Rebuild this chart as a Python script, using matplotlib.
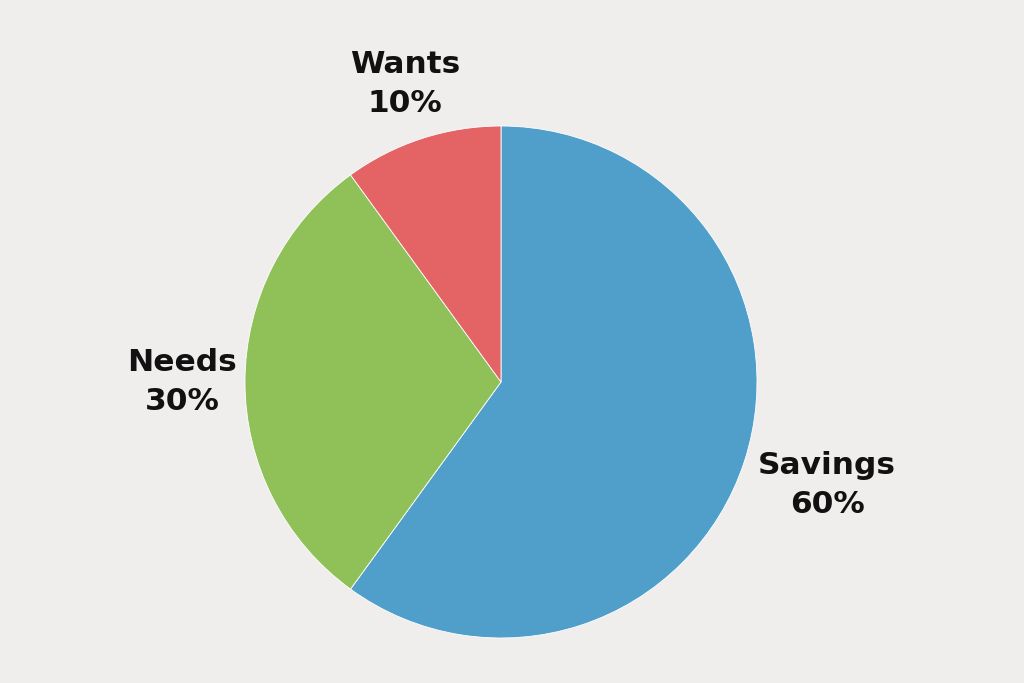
import matplotlib
matplotlib.use("Agg")
import matplotlib.pyplot as plt

categories = ["Savings", "Needs", "Wants"]
values = [60, 30, 10]
colors = ["#4f9fca", "#8fc158", "#e46466"]
label_pos = {"Savings": (827, 198), "Needs": (182, 301), "Wants": (405, 599)}

bg = "#f0eeed"
fig = plt.figure(figsize=(10.24, 6.83), dpi=100, facecolor=bg)
ax = fig.add_axes([0, 0, 1, 1], facecolor=bg)
ax.pie(values, colors=colors, startangle=90, counterclock=False,
       center=(501, 301), radius=256, frame=True,
       wedgeprops=dict(edgecolor="white", linewidth=0.6))
ax.set_xlim(0, 1024)
ax.set_ylim(0, 683)
ax.set_aspect("equal")
ax.axis("off")
for c, v in zip(categories, values):
    x, y = label_pos[c]
    ax.text(x, y, f"{c}\n{v}%", ha="center", va="center", fontsize=22.5,
            fontweight="bold", family=["DejaVu Sans"],
            linespacing=1.4, color="#111111")
fig.savefig("out.png", dpi=100, facecolor=bg)
